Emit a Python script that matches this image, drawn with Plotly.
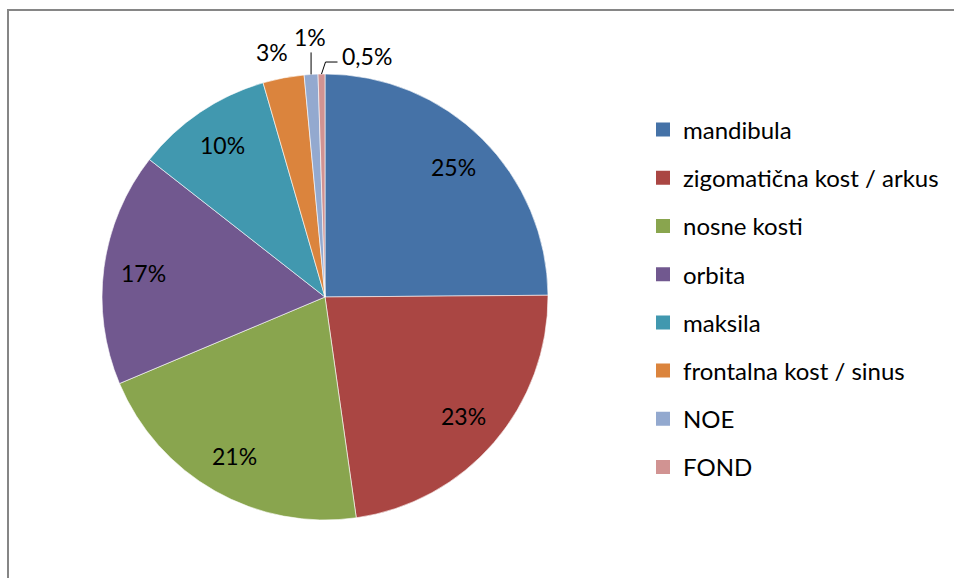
import math
import plotly.graph_objects as go

categories = ["mandibula", "zigomatična kost / arkus", "nosne kosti", "orbita",
              "maksila", "frontalna kost / sinus", "NOE", "FOND"]
values = [25, 23, 21, 17, 10, 3, 1, 0.5]
label_texts = ["25%", "23%", "21%", "17%", "10%", "3%", "1%", "0,5%"]
colors = ["#4572A7", "#AA4643", "#89A54E", "#71588F", "#4198AF", "#DB843D", "#93A9CF", "#D19392"]

W, H = 954, 578
FONT = "Lato, 'Open Sans', sans-serif"

# pie geometry (pixels)
CX, CY, R = 325, 297, 223


def px2paper(x, y):
    return x / W, 1 - y / H


fig = go.Figure()
fig.add_trace(go.Pie(
    labels=categories, values=values,
    textinfo="none", textposition="none",
    sort=False, direction="clockwise", rotation=0,
    marker=dict(colors=colors, line=dict(color="rgba(255,255,255,0.6)", width=1)),
    showlegend=False, hoverinfo="label+percent",
    domain=dict(x=[(CX - R) / W, (CX + R) / W], y=[(H - CY - R) / H, (H - CY + R) / H]),
))

# legend via dummy traces
for c, col in zip(categories, colors):
    fig.add_trace(go.Scatter(x=[None], y=[None], mode="markers", name=c,
                             marker=dict(symbol="square", size=14, color=col),
                             legendgroup=c, showlegend=True))

# data labels positioned from the slice angles
total = sum(values)
cum = 0
mids = []
for v in values:
    a0 = cum / total * 360
    cum += v
    a1 = cum / total * 360
    mids.append(math.radians((a0 + a1) / 2))

annotations = []
shapes = []
lab_font = dict(family=FONT, size=23, color="black")
for i, (t, m) in enumerate(zip(label_texts, mids)):
    if i < 5:
        rr = 0.82 * R
        x = CX + rr * math.sin(m)
        y = CY - rr * math.cos(m)
        xp, yp = px2paper(x, y)
        annotations.append(dict(x=xp, y=yp, xref="paper", yref="paper", text=t,
                                showarrow=False, font=lab_font, xanchor="center", yanchor="middle"))
    elif i == 5:
        rr = 1.12 * R
        x = CX + rr * math.sin(m) - 6
        y = CY - rr * math.cos(m)
        xp, yp = px2paper(x, y)
        annotations.append(dict(x=xp, y=yp, xref="paper", yref="paper", text=t,
                                showarrow=False, font=lab_font, xanchor="center", yanchor="middle"))
    elif i == 6:
        x = CX + R * math.sin(m)
        y = CY - R * math.cos(m)
        x0, y0 = px2paper(x, y)
        x1, y1 = px2paper(x, y - 22)
        shapes.append(dict(type="line", xref="paper", yref="paper", x0=x0, y0=y0, x1=x1, y1=y1,
                           line=dict(color="black", width=1)))
        xp, yp = px2paper(x - 1, y - 37)
        annotations.append(dict(x=xp, y=yp, xref="paper", yref="paper", text=t,
                                showarrow=False, font=lab_font, xanchor="center", yanchor="middle"))
    else:
        x = CX + R * math.sin(m)
        y = CY - R * math.cos(m)
        p0 = px2paper(x, y)
        p1 = px2paper(x + 4, y - 12)
        p2 = px2paper(x + 16, y - 12)
        shapes.append(dict(type="path", xref="paper", yref="paper",
                           path=f"M {p0[0]},{p0[1]} L {p1[0]},{p1[1]} L {p2[0]},{p2[1]}",
                           line=dict(color="black", width=1)))
        xp, yp = px2paper(x + 18, y - 18)
        annotations.append(dict(x=xp, y=yp, xref="paper", yref="paper", text=t,
                                showarrow=False, font=lab_font, xanchor="left", yanchor="middle"))

shapes.append(dict(type="rect", xref="paper", yref="paper",
                   x0=8 / W, x1=1.02, y0=-0.02, y1=1 - 10 / H,
                   line=dict(color="#868686", width=2), fillcolor="rgba(0,0,0,0)"))

fig.update_layout(
    width=W, height=H, margin=dict(l=0, r=0, t=0, b=0),
    paper_bgcolor="white", plot_bgcolor="white",
    xaxis=dict(visible=False), yaxis=dict(visible=False),
    legend=dict(x=643 / W, y=1 - 107.5 / H, xanchor="left", yanchor="top",
                font=dict(family=FONT, size=24, color="black"),
                tracegroupgap=14, itemsizing="trace", itemwidth=30,
                bgcolor="rgba(0,0,0,0)"),
    annotations=annotations,
    shapes=shapes,
)

fig.write_html("out.html", config={"displayModeBar": False},
               post_script="document.body.style.margin='0';")
